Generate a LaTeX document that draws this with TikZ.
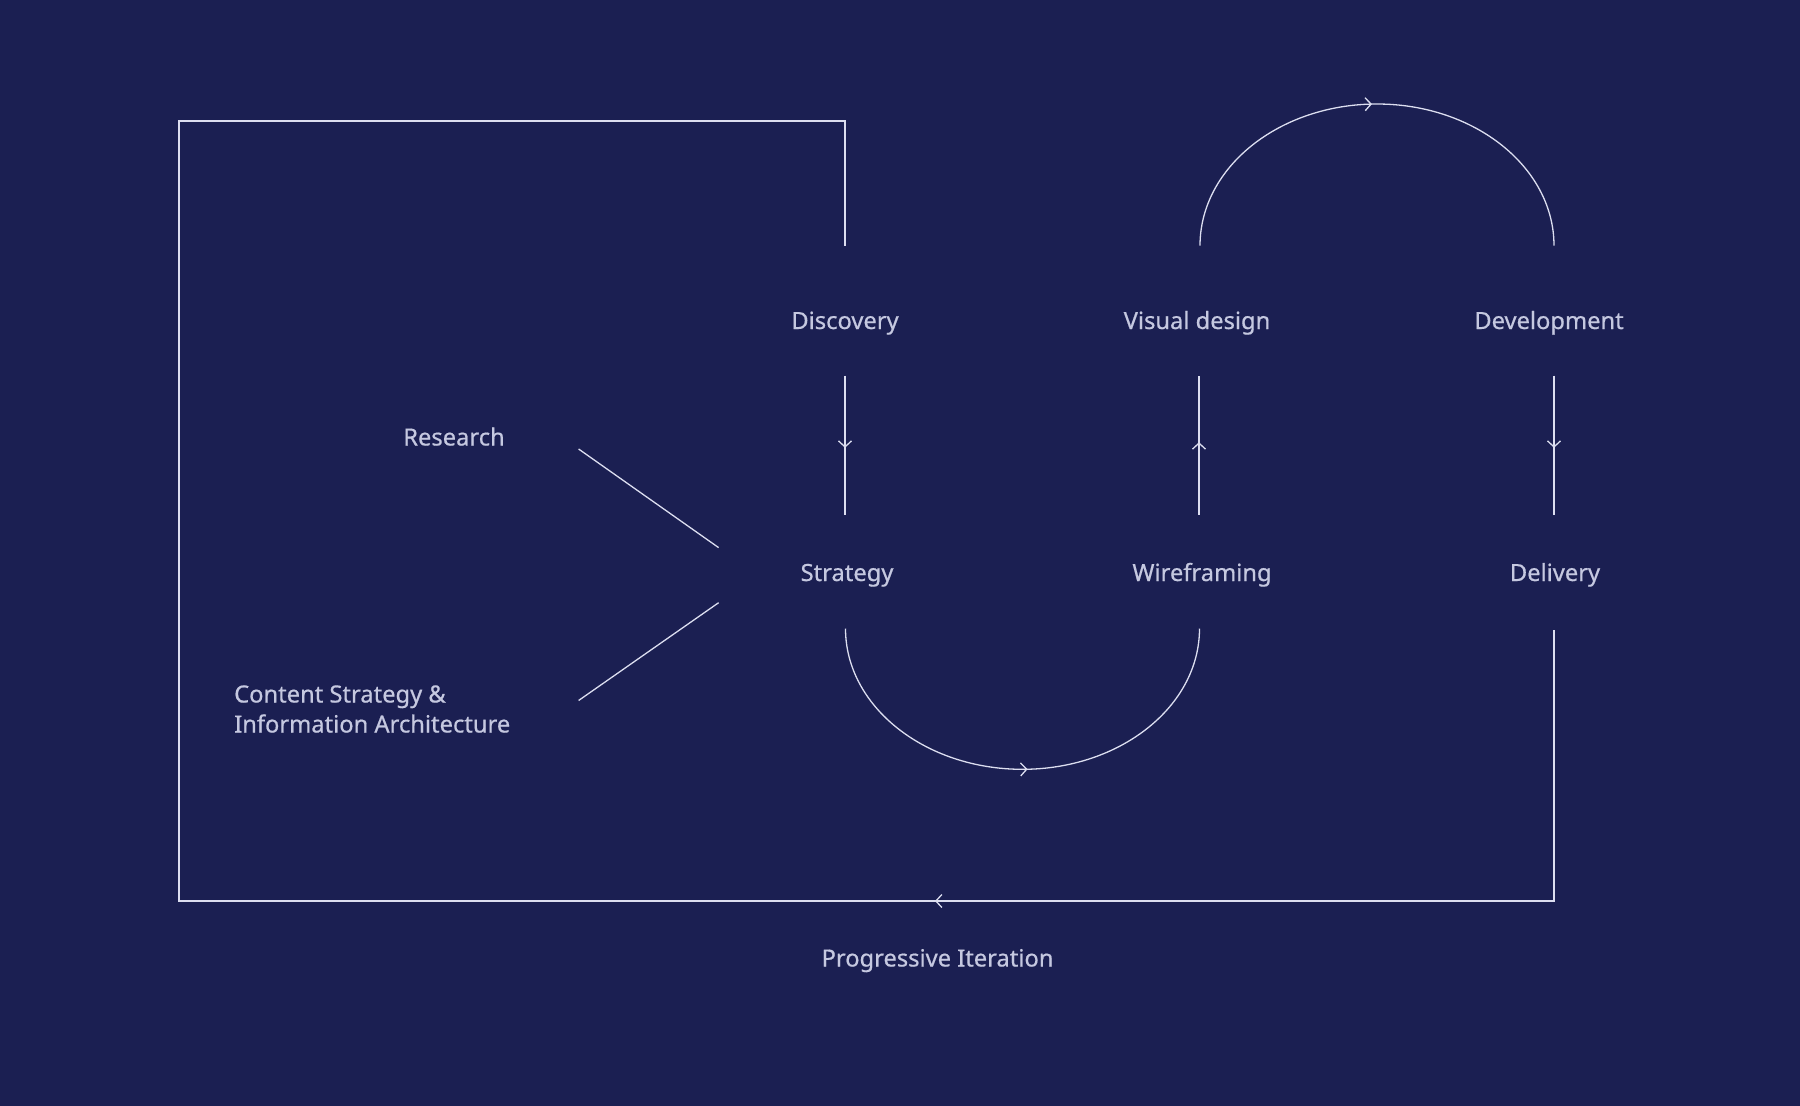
\documentclass[tikz,border=0pt]{standalone}
\usepackage{fontspec}
\setmainfont{Noto Sans}[FakeBold=0.6]
\usetikzlibrary{arrows.meta,decorations.markings}
\definecolor{bg}{HTML}{1B1F52}
\definecolor{ln}{HTML}{DCDEF0}
\definecolor{tx}{HTML}{C5C8E0}
\tikzset{
  lbl/.style={text=tx, inner sep=0pt, anchor=base, font=\fontsize{23.7}{30}\selectfont},
  conn/.style={draw=ln, line width=1.3pt},
  chev/.tip={Straight Barb[length=6pt,width=13pt,line width=1.3pt]},
  midarrow/.style={postaction={decorate, decoration={markings, mark=at position #1 with {\arrow{chev}}}}}
}
\begin{document}
\begin{tikzpicture}[x=1pt,y=-1pt]
\fill[bg] (0,0) rectangle (1800,1106);
\useasboundingbox (0,0) rectangle (1800,1106);

% labels
\node[lbl] (disc) at (845,329) {Discovery};
\node[lbl] (vis)  at (1197,329) {Visual design};
\node[lbl] (dev)  at (1549,329) {Development};
\node[lbl] (strat) at (847,581) {Strategy};
\node[lbl] (wire) at (1202,581) {Wireframing};
\node[lbl] (deliv) at (1555,581) {Delivery};
\node[lbl] (res) at (454,445.5) {Research};
\node[lbl, anchor=base west] (cont) at (234,702.5) {\begin{tabular}[t]{@{}l@{}}Content Strategy \&\\Information Architecture\end{tabular}};
\node[lbl] (prog) at (937.5,966.5) {Progressive Iteration};

% connector end points
\coordinate (discB) at (845,375.5);
\coordinate (stratT) at (845,514.5);
\coordinate (stratB) at (845.5,628.5);
\coordinate (wireT) at (1199,514.5);
\coordinate (wireB) at (1199.5,628.5);
\coordinate (visB) at (1199,375.5);
\coordinate (visT) at (1200,245.7);
\coordinate (devT) at (1554,245.7);
\coordinate (devB) at (1554,375.5);
\coordinate (delivT) at (1554,514.5);
\coordinate (delivB) at (1554,630);
\coordinate (discT) at (845,245.7);
\coordinate (resE) at (578.6,449);
\coordinate (stratW1) at (718.6,547.6);
\coordinate (contE) at (578.6,700.5);
\coordinate (stratW2) at (718.6,602.7);

% connectors
\draw[conn, midarrow=0.52] (discB) -- (stratT);
\draw[conn, midarrow=0.52] (wireT) -- (visB);
\draw[conn, midarrow=0.52] (devB) -- (delivT);
\draw[conn, midarrow=0.51] (stratB) arc[start angle=180, end angle=0, x radius=177, y radius=140.8];
\draw[conn, midarrow=0.49] (visT) arc[start angle=180, end angle=360, x radius=177, y radius=141.7];
\draw[conn, midarrow=890pt] (delivB) |- (179,901) |- (845,121) -- (discT);
\draw[conn] (resE) -- (stratW1);
\draw[conn] (contE) -- (stratW2);
\end{tikzpicture}
\end{document}
